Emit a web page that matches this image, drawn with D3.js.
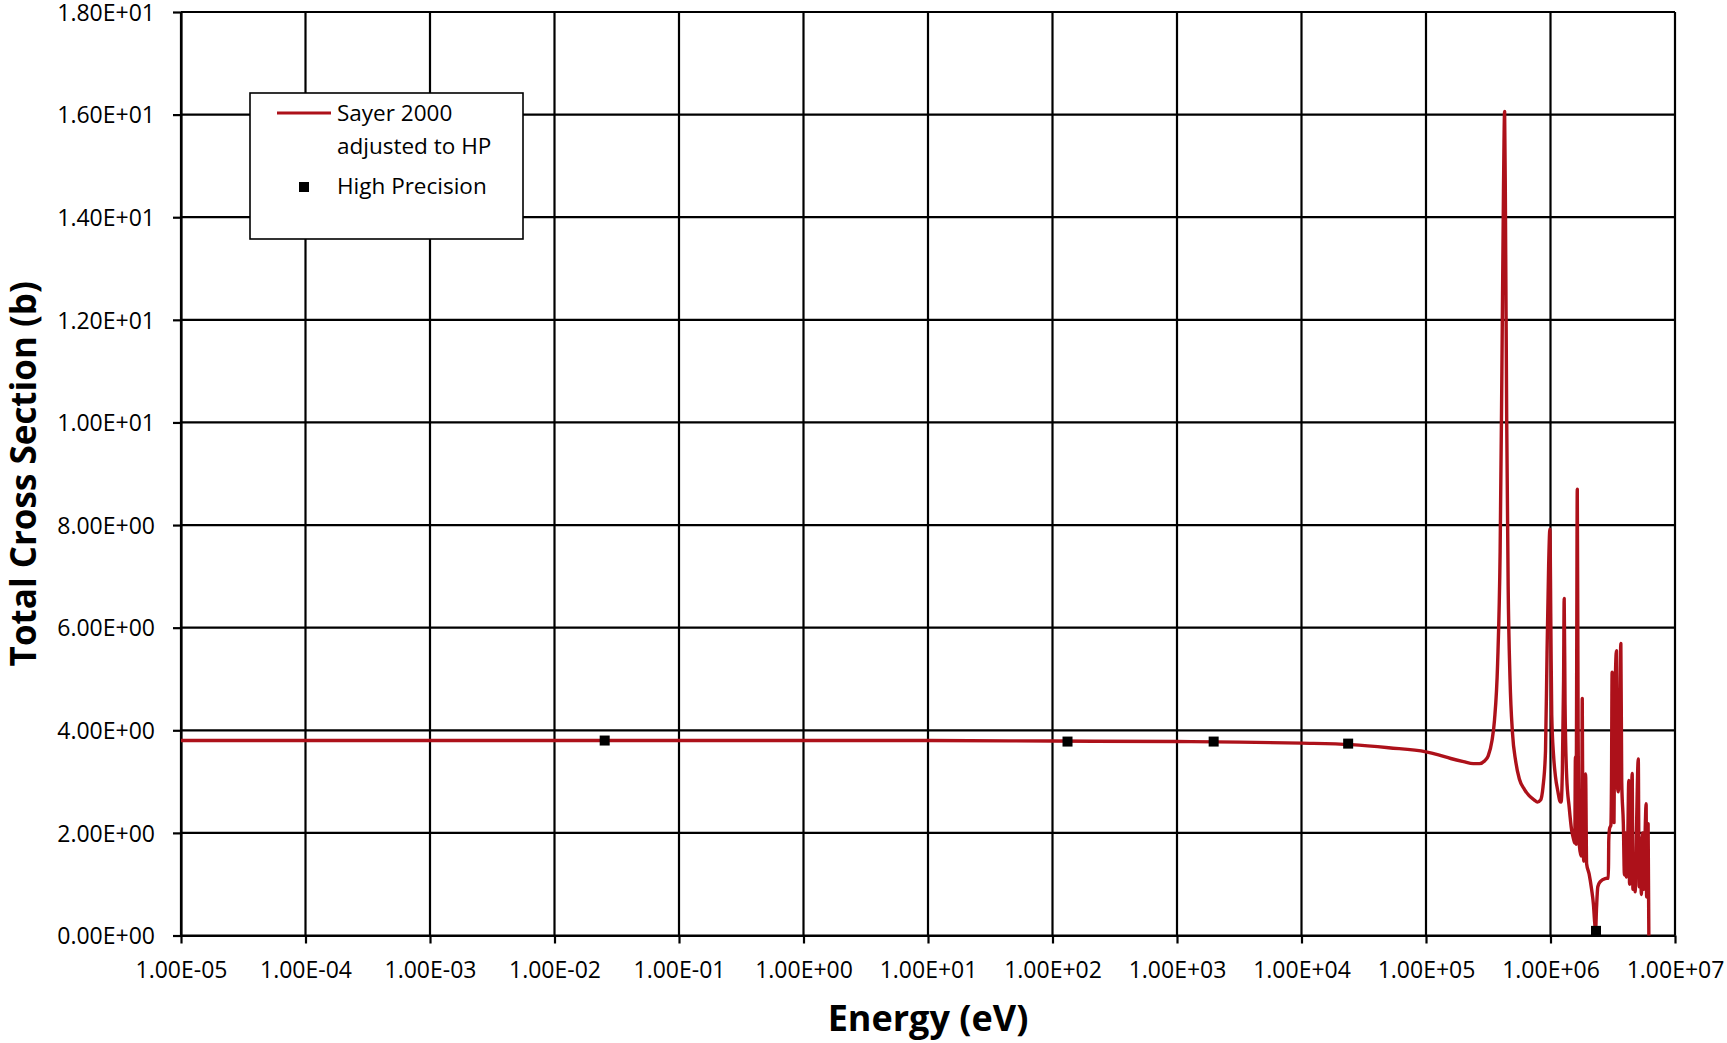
<!DOCTYPE html>
<html>
<head>
<meta charset="utf-8">
<script src="https://cdn.jsdelivr.net/npm/d3@7"></script>
<style>
  body { margin: 0; background: #fff; }
  svg { font-family: "Open Sans", sans-serif; }
</style>
</head>
<body>
<svg width="1727" height="1043"></svg>
<script>
// energies in eV, total cross section in barns
var energy = [1e-5, 1e-3, 0.1, 10, 100, 1000, 3.16e3, 1e4, 2.51e4, 5.01e4,
  1e5, 1.26e5, 1.58e5, 2.0e5, 2.4e5, 2.69e5, 2.95e5, 3.16e5, 3.39e5, 3.55e5,
  3.76e5, 3.94e5, 4.07e5, 4.19e5, 4.28e5, 4.35e5, 4.45e5, 4.57e5, 4.73e5, 4.95e5,
  5.25e5, 5.62e5, 6.17e5, 6.76e5, 7.41e5, 7.85e5, 8.32e5, 8.71e5, 9.12e5, 9.38e5,
  9.66e5, 9.89e5, 1.007e6, 1.023e6, 1.059e6, 1.096e6, 1.148e6, 1.189e6, 1.216e6, 1.245e6,
  1.274e6, 1.288e6, 1.309e6, 1.349e6, 1.413e6, 1.479e6, 1.531e6, 1.567e6, 1.585e6, 1.603e6,
  1.622e6, 1.641e6, 1.667e6, 1.706e6, 1.758e6, 1.786e6, 1.799e6, 1.820e6, 1.854e6, 1.914e6,
  1.950e6, 2.042e6, 2.138e6, 2.213e6, 2.265e6, 2.301e6, 2.344e6, 2.399e6, 2.512e6, 2.754e6,
  2.917e6, 2.938e6, 2.985e6, 3.055e6, 3.090e6, 3.126e6, 3.162e6, 3.236e6, 3.273e6, 3.388e6,
  3.428e6, 3.508e6, 3.606e6, 3.673e6, 3.733e6, 3.846e6, 3.926e6, 3.981e6, 4.074e6, 4.169e6,
  4.256e6, 4.315e6, 4.416e6, 4.529e6, 4.592e6, 4.732e6, 4.786e6, 4.898e6, 5.070e6, 5.152e6,
  5.248e6, 5.370e6, 5.495e6, 5.623e6, 5.781e6, 5.861e6, 5.916e6, 5.998e6, 6.081e6, 6.166e6];

var sigma = [3.80, 3.80, 3.80, 3.80, 3.79, 3.78, 3.77, 3.75, 3.72, 3.66,
  3.58, 3.52, 3.45, 3.39, 3.35, 3.35, 3.40, 3.50, 3.80, 4.20,
  5.3, 7.5, 11.0, 14.5, 16.06, 14.0, 10.0, 6.8, 5.0, 3.95,
  3.40, 3.05, 2.85, 2.72, 2.64, 2.60, 2.64, 2.90, 3.6, 5.5,
  7.2, 7.92, 6.0, 4.3, 3.5, 3.1, 2.8, 2.62, 2.60, 3.2,
  5.0, 6.57, 4.5, 3.1, 2.5, 2.05, 1.88, 1.80, 3.48, 1.78,
  5.0, 8.70, 4.0, 1.75, 1.55, 2.5, 4.62, 2.0, 1.45, 3.15,
  1.40, 1.20, 0.90, 0.60, 0.25, 0.09, 0.55, 0.95, 1.05, 1.11,
  1.12, 1.86, 2.09, 2.15, 3.0, 5.13, 2.4, 2.2, 4.0, 5.55,
  3.0, 2.8, 4.5, 5.69, 3.0, 2.18, 1.18, 2.0, 1.14, 1.8,
  3.02, 1.0, 1.5, 3.16, 0.9, 1.6, 0.85, 2.0, 3.44, 0.95,
  1.9, 0.8, 2.0, 0.9, 2.2, 2.57, 0.75, 1.5, 2.18, 0.0];

// high precision points
var hpEnergy = [0.0253, 1.32e2, 1.97e3, 2.37e4, 2.32e6];
var hpSigma = [3.80, 3.78, 3.78, 3.74, 0.09];

var xTicks = [1e-5, 1e-4, 1e-3, 1e-2, 1e-1, 1e0, 1e1, 1e2, 1e3, 1e4, 1e5, 1e6, 1e7];
var yTicks = [0, 2, 4, 6, 8, 10, 12, 14, 16, 18];

var svg = d3.select("svg"),
    width = +svg.attr("width"),
    height = +svg.attr("height");

var plotLeft = 181, plotRight = 1675, plotTop = 12, plotBottom = 935.5;

svg.append("rect").attr("width", width).attr("height", height).attr("fill", "#fff");

var x = d3.scaleLog().domain([1e-5, 1e7]).range([plotLeft, plotRight]);
var y = d3.scaleLinear().domain([0, 18]).range([plotBottom, plotTop]);

// 1.00E-05 style labels
function sci(v) {
  if (v === 0) return "0.00E+00";
  var e = Math.floor(Math.log10(v) + 1e-9);
  var m = v / Math.pow(10, e);
  var s = e < 0 ? "-" : "+";
  var ea = Math.abs(e);
  return m.toFixed(2) + "E" + s + (ea < 10 ? "0" + ea : ea);
}

// grid
var grid = svg.append("g").attr("class", "grid")
    .attr("stroke", "#000").attr("stroke-width", 2.2);

grid.selectAll("line.v").data(xTicks).enter().append("line")
    .attr("class", "v")
    .attr("x1", function(d) { return x(d); })
    .attr("x2", function(d) { return x(d); })
    .attr("y1", plotTop)
    .attr("y2", plotBottom);

grid.selectAll("line.h").data(yTicks).enter().append("line")
    .attr("class", "h")
    .attr("x1", plotLeft)
    .attr("x2", plotRight)
    .attr("y1", function(d) { return y(d); })
    .attr("y2", function(d) { return y(d); });

// axes
var xAxis = svg.append("g")
    .attr("transform", "translate(0," + plotBottom + ")")
    .call(d3.axisBottom(x).tickValues(xTicks).tickFormat(sci).tickSizeInner(8).tickSizeOuter(0).tickPadding(18));

var yAxis = svg.append("g")
    .attr("transform", "translate(" + plotLeft + ",0)")
    .call(d3.axisLeft(y).tickValues(yTicks).tickFormat(sci).tickSizeInner(8).tickSizeOuter(0).tickPadding(18));

svg.selectAll(".domain, .tick line").attr("stroke", "#000").attr("stroke-width", 2.2);
svg.selectAll(".tick text")
    .attr("fill", "#000")
    .style("font-family", "'Open Sans', sans-serif")
    .style("font-size", "23px");
yAxis.selectAll(".tick text").attr("dy", "0.36em");

// axis titles
svg.append("text")
    .attr("x", (plotLeft + plotRight) / 2)
    .attr("y", 1031)
    .attr("text-anchor", "middle")
    .style("font-size", "36px")
    .style("font-weight", "bold")
    .text("Energy (eV)");

svg.append("text")
    .attr("transform", "translate(36," + ((plotTop + plotBottom) / 2) + ") rotate(-90)")
    .attr("text-anchor", "middle")
    .style("font-size", "35px")
    .style("font-weight", "bold")
    .text("Total Cross Section (b)");

// curve
var pts = energy.map(function(e, i) { return [e, sigma[i]]; });

var line = d3.line()
    .x(function(d) { return x(d[0]); })
    .y(function(d) { return y(d[1]); })
    .curve(d3.curveMonotoneX);

svg.append("path")
    .datum(pts)
    .attr("fill", "none")
    .attr("stroke", "#ad111a")
    .attr("stroke-width", 3.4)
    .attr("stroke-linejoin", "round")
    .attr("d", line);

// high precision markers
svg.selectAll("rect.hp").data(hpEnergy).enter().append("rect")
    .attr("class", "hp")
    .attr("x", function(d) { return x(d) - 5; })
    .attr("y", function(d, i) { return y(hpSigma[i]) - 5; })
    .attr("width", 10)
    .attr("height", 10)
    .attr("fill", "#000");

// legend
var legend = svg.append("g");
legend.append("rect")
    .attr("x", 250).attr("y", 93)
    .attr("width", 273).attr("height", 146)
    .attr("fill", "#fff")
    .attr("stroke", "#000")
    .attr("stroke-width", 1.6);

legend.append("line")
    .attr("x1", 277).attr("x2", 331)
    .attr("y1", 113).attr("y2", 113)
    .attr("stroke", "#ad111a").attr("stroke-width", 3);

legend.append("rect")
    .attr("x", 299).attr("y", 182)
    .attr("width", 10).attr("height", 10)
    .attr("fill", "#000");

var lt = legend.append("text")
    .style("font-size", "22.5px")
    .attr("fill", "#000");
lt.append("tspan").attr("x", 337).attr("y", 121).text("Sayer 2000");
lt.append("tspan").attr("x", 337).attr("y", 154).text("adjusted to HP");

legend.append("text")
    .attr("x", 337).attr("y", 194)
    .style("font-size", "22.5px")
    .text("High Precision");
</script>
</body>
</html>
